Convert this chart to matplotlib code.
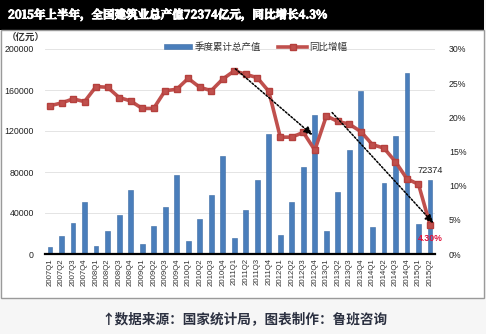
import matplotlib
matplotlib.use("Agg")
import matplotlib.pyplot as plt
import matplotlib.patheffects as pe
from matplotlib.patches import Rectangle

plt.rcParams['font.family'] = ['Noto Sans CJK SC', 'DejaVu Sans']

quarters = [f"{y}Q{q}" for y in range(2007, 2016) for q in range(1, 5)][:34]

output = [6500, 17900, 30500, 51044,
          8100, 22400, 37700, 62037,
          9800, 27300, 46100, 76808,
          12700, 34100, 57600, 96031,
          15900, 42900, 72200, 117060,
          18800, 50400, 85200, 135303,
          22400, 60200, 101500, 159313,
          26000, 69600, 115100, 176713,
          29000, 72374]

growth = [21.7, 22.1, 22.7, 22.3,
          24.5, 24.4, 22.9, 22.4,
          21.3, 21.3, 23.9, 24.1,
          25.7, 24.4, 23.9, 25.6,
          26.8, 26.3, 25.8, 23.8,
          17.1, 17.1, 17.8, 15.2,
          20.2, 19.4, 19.0, 17.9,
          16.0, 15.5, 13.5, 11.0,
          10.2, 4.3]

left_ticks = [0, 40000, 80000, 120000, 160000, 200000]
right_ticks = [0, 5, 10, 15, 20, 25, 30]

title = "2015年上半年，全国建筑业总产值72374亿元，同比增长4.3%"
caption = "↑数据来源：国家统计局，图表制作：鲁班咨询"

W, H = 486, 334
fig = plt.figure(figsize=(W / 100, H / 100), dpi=100, facecolor="#f6f6f6")

# black title band
fig.patches.append(Rectangle((0, 1 - 30 / H), 484 / W, 30 / H, transform=fig.transFigure,
                             facecolor="black", edgecolor="none", zorder=-2))
fig.text(8 / W, 1 - 15 / H, title, color="white", fontsize=8.3, fontweight="bold",
         va="center", ha="left", family=["Noto Serif CJK SC", "Noto Sans CJK SC", "DejaVu Serif"],
         path_effects=[pe.withStroke(linewidth=0.7, foreground="white")])

# white chart panel
fig.patches.append(Rectangle((0.5 / W, 1 - 298 / H), 483.5 / W, 268 / H, transform=fig.transFigure,
                             facecolor="white", edgecolor="#9a9a9a", linewidth=1.0, zorder=-2))

fig.text(244 / W, 1 - 320 / H, caption, color="#2b3040", fontsize=9.8, fontweight="bold",
         va="center", ha="center")

ax = fig.add_axes([45 / W, 80 / H, 390 / W, 205 / H])
ax.set_facecolor("none")
x = list(range(len(quarters)))

ax.bar(x, output, width=0.42, color="#4a7ebb", edgecolor="#3b6aa3", linewidth=0.4,
       zorder=3, label="季度累计总产值")
ax.set_ylim(0, 200000)
ax.set_xlim(-0.434, 33.434)
ax.set_yticks(left_ticks)
ax.set_yticklabels([str(v) for v in left_ticks], family="Liberation Sans", fontsize=6.3, color="#222222")
ax.yaxis.grid(True, color="#e4e4e4", linewidth=0.7, zorder=0)
ax.set_axisbelow(True)
ax.tick_params(axis="y", length=0, pad=8)
ax.set_xticks(x)
ax.set_xticklabels(quarters, rotation=90, family="Liberation Sans", fontsize=5.6, color="#333333")
ax.tick_params(axis="x", length=0, pad=3)
for s in ("left", "right", "top"):
    ax.spines[s].set_visible(False)
ax.spines["bottom"].set_linewidth(1.6)
ax.spines["bottom"].set_color("black")
ax.spines["bottom"].set_zorder(5)

ax.text(-0.434 - 38 / 11.5, 200000 + 11500, "（亿元）", fontsize=6.8, color="#333333",
        ha="left", va="center", fontweight="bold")

ax.text(x[-1], output[-1] + 4500, f"{output[-1]}", fontsize=6.6, ha="center", va="bottom",
        family="Liberation Sans", color="#222222", zorder=6)

ax2 = ax.twinx()
ax2.plot(x, growth, color="#c0504d", linewidth=2.6, marker="s", markersize=4.2,
         markeredgecolor="#b5403d", zorder=4, label="同比增幅")
ax2.set_ylim(0, 30)
ax2.set_yticks(right_ticks)
ax2.set_yticklabels([f"{v}%" for v in right_ticks], family="Liberation Sans", fontsize=6.3, color="#222222")
ax2.tick_params(axis="y", length=0, pad=10)
for s in ("left", "right", "top", "bottom"):
    ax2.spines[s].set_visible(False)

ax2.text(x[-1], growth[-1] - 2.1, f"{growth[-1]:.2f}%", fontsize=6.3, color="#e0103a",
         fontweight="bold", ha="center", va="center", family="Liberation Sans", zorder=6)

# dotted trend arrows
arrow = dict(arrowstyle="-|>,head_length=0.5,head_width=0.22", linestyle=(0, (1.2, 1.2)),
             linewidth=1.1, color="black", shrinkA=0, shrinkB=0)
ax2.annotate("", xy=(22.8, 17.4), xytext=(16.1, 27.1), arrowprops=arrow, zorder=6)
ax2.annotate("", xy=(33.3, 4.5), xytext=(24.5, 20.7), arrowprops=arrow, zorder=6)

h1, l1 = ax.get_legend_handles_labels()
h2, l2 = ax2.get_legend_handles_labels()
leg = ax2.legend(h1 + h2, l1 + l2, loc="center", bbox_to_anchor=(0.54, 1.01), ncol=2,
                 frameon=False, fontsize=6.8, handlelength=3.0, handleheight=0.5,
                 columnspacing=1.8, handletextpad=0.3)
for t in leg.get_texts():
    t.set_color("#333333")

fig.savefig("out.png", dpi=100, facecolor=fig.get_facecolor())
